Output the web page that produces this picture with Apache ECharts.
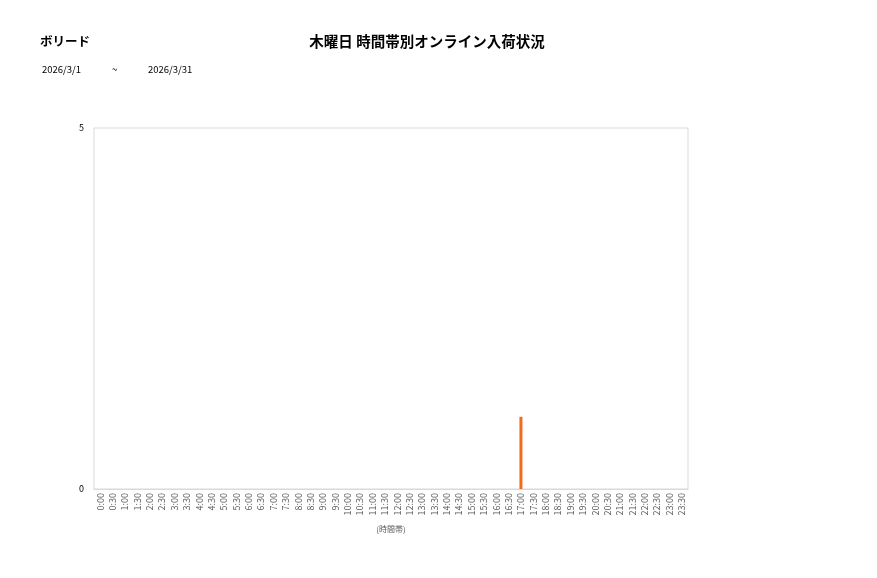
<!DOCTYPE html>
<html><head><meta charset="utf-8">
<script src="https://cdn.jsdelivr.net/npm/echarts@6/dist/echarts.min.js"></script>
<style>html,body{margin:0;padding:0;background:#fff}#c{width:877px;height:578px}</style>
</head><body><div id="c"></div>
<script>
const categories = [];
for (let h = 0; h < 24; h++) { categories.push(h + ':00'); categories.push(h + ':30'); }
const values = categories.map(c => c === '17:00' ? 1 : 0);
const yTicks = [0, 5];
const FONT = '"Noto Sans CJK JP", "Noto Sans", sans-serif';
const chart = echarts.init(document.getElementById('c'));
chart.setOption({
  backgroundColor: '#fff',
  animation: false,
  title: [
    { text: '木曜日 時間帯別オンライン入荷状況', left: 427, top: 34, textAlign: 'center', padding: 0,
      textStyle: { fontFamily: FONT, fontSize: 14.5, fontWeight: 'bold', color: '#000' } },
    { text: 'ボリード', left: 40, top: 35, padding: 0,
      textStyle: { fontFamily: FONT, fontSize: 12.5, fontWeight: 'bold', color: '#000' } },
    { text: '2026/3/1', left: 42, top: 65, padding: 0, textStyle: { fontFamily: FONT, fontSize: 9.5, fontWeight: 'normal', color: '#000' } },
    { text: '~', left: 112, top: 65, padding: 0, textStyle: { fontFamily: FONT, fontSize: 9.5, fontWeight: 'normal', color: '#000' } },
    { text: '2026/3/31', left: 148, top: 65, padding: 0, textStyle: { fontFamily: FONT, fontSize: 9.5, fontWeight: 'normal', color: '#000' } }
  ],
  grid: { left: 94, right: 189, top: 128, bottom: 89, show: true, borderColor: '#d9d9d9', borderWidth: 1, containLabel: false },
  xAxis: {
    type: 'category', data: categories,
    name: '(時間帯)', nameLocation: 'middle', nameGap: 36,
    nameTextStyle: { fontFamily: FONT, fontSize: 8, color: '#595959' },
    axisLine: { show: true, lineStyle: { color: '#d9d9d9' } },
    axisTick: { show: false },
    axisLabel: { rotate: 90, interval: 0, fontFamily: FONT, fontSize: 9, color: '#595959', margin: 4 }
  },
  yAxis: {
    type: 'value', min: yTicks[0], max: yTicks[1], interval: 5,
    axisLine: { show: false }, axisTick: { show: false },
    splitLine: { show: false },
    axisLabel: { fontFamily: FONT, fontSize: 9, color: '#000', margin: 10 }
  },
  series: [{
    type: 'bar', data: values, barWidth: 3,
    itemStyle: { color: '#f26b1d' }
  }]
});
</script></body></html>
